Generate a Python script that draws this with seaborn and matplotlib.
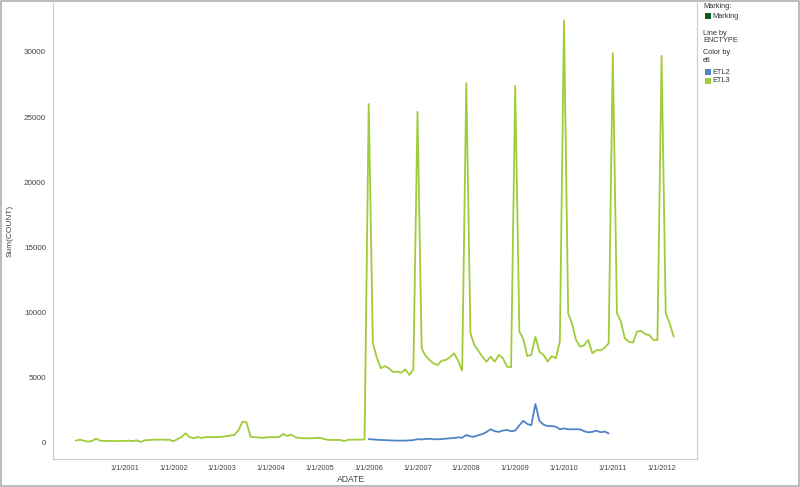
import numpy as np
import pandas as pd
import matplotlib
matplotlib.use("Agg")
import matplotlib.pyplot as plt
from matplotlib.patches import Rectangle
import seaborn as sns

# ---- data (monthly Sum(COUNT)) ----
etl3_start = "2000-01-01"
etl3_values = [
    # 2000
    180, 250, 180, 100, 150, 330, 180, 160, 150, 150, 150, 150,
    # 2001
    160, 170, 150, 200, 80, 200, 220, 250, 250, 260, 240, 250,
    # 2002
    130, 300, 440, 740, 460, 360, 460, 380, 460, 440, 450, 460,
    # 2003
    470, 520, 560, 620, 950, 1620, 1600, 480, 440, 420, 400, 430,
    # 2004
    450, 440, 450, 690, 540, 640, 440, 380, 360, 360, 360, 380,
    # 2005
    400, 300, 240, 230, 230, 230, 150, 240, 250, 250, 260, 260,
    # 2006
    26000, 7650, 6600, 5730, 5900, 5730, 5450, 5470, 5390, 5650, 5220, 5650,
    # 2007
    25400, 7260, 6700, 6370, 6100, 5980, 6310, 6370, 6570, 6880, 6310, 5550,
    # 2008
    27600, 8410, 7520, 7050, 6600, 6240, 6620, 6240, 6750, 6500, 5850, 5800,
    # 2009
    27400, 8540, 8030, 6670, 6750, 8150, 7000, 6750, 6240, 6670, 6500, 7770,
    # 2010
    32400, 9950, 9180, 7900, 7390, 7500, 7900, 6880, 7130, 7100, 7300, 7650,
    # 2011
    29900, 9950, 9370, 8030, 7770, 7700, 8540, 8600, 8340, 8280, 7900, 7900,
    # 2012
    29700, 9950, 9180, 8150,
]

etl2_start = "2006-01-01"
etl2_values = [
    # 2006
    300, 270, 250, 230, 220, 200, 190, 180, 180, 180, 200, 220,
    # 2007
    290, 270, 300, 320, 290, 280, 300, 330, 360, 380, 430, 400,
    # 2008
    610, 500, 480, 600, 680, 850, 1050, 900, 850, 950, 1000, 900,
    # 2009
    950, 1350, 1700, 1460, 1350, 2990, 1700, 1400, 1300, 1300, 1250, 1050,
    # 2010
    1120, 1050, 1050, 1050, 1050, 900, 820, 850, 950, 820, 870, 740,
]

series_names = ["ETL2", "ETL3"]
series_colors = ["#4F84C4", "#A0CC3A"]
y_ticks = [0, 5000, 10000, 15000, 20000, 25000, 30000]
x_tick_years = list(range(2001, 2013))
x_tick_labels = [f"1/1/{y}" for y in x_tick_years]

df = pd.concat([
    pd.DataFrame({"ADATE": pd.date_range(etl2_start, periods=len(etl2_values), freq="MS"),
                  "COUNT": etl2_values, "etl": "ETL2"}),
    pd.DataFrame({"ADATE": pd.date_range(etl3_start, periods=len(etl3_values), freq="MS"),
                  "COUNT": etl3_values, "etl": "ETL3"}),
], ignore_index=True)

sns.set_theme(style="white")
plt.rcParams["font.family"] = ["Liberation Sans", "DejaVu Sans"]

fig = plt.figure(figsize=(8.0, 4.87), dpi=100)
ax = fig.add_axes([53 / 800, 28 / 487, (697 - 53) / 800, (459 - 3) / 487])

sns.lineplot(data=df, x="ADATE", y="COUNT", hue="etl", hue_order=series_names,
             palette=dict(zip(series_names, series_colors)), linewidth=1.3,
             legend=False, ax=ax)

ax.set_xlim(pd.Timestamp("1999-07-15"), pd.Timestamp("2012-09-22"))
ax.set_ylim(-1230, 33750)
ax.set_yticks(y_ticks)
ax.set_yticklabels([str(v) for v in y_ticks])
ax.set_xticks([pd.Timestamp(f"{y}-01-01") for y in x_tick_years])
ax.set_xticklabels(x_tick_labels)
ax.tick_params(axis="both", length=0, colors="#444444")
ax.tick_params(axis="x", pad=4, labelsize=5.3)
ax.tick_params(axis="y", pad=5, labelsize=5.8)
ax.set_xlabel("")
ax.set_ylabel("")
ax.spines["top"].set_visible(False)
for side in ["left", "bottom", "right"]:
    ax.spines[side].set_color("#cfcfcf")
    ax.spines[side].set_linewidth(0.9)
ax.grid(False)

fig.text(10 / 800, 1 - 231 / 487, "Sum(COUNT)", rotation=90, ha="center", va="center",
         fontsize=6, color="#444444")
fig.text(351 / 800, 1 - 480 / 487, "ADATE", ha="center", va="center",
         fontsize=6.2, color="#444444")

# legend panel
lx = 703 / 800
def ftxt(y, s):
    fig.text(lx, 1 - y / 487, s, ha="left", va="center", fontsize=5.3, color="#333333")

ftxt(6, "Marking:")
fig.patches.append(Rectangle((705 / 800, 1 - 19 / 487), 6 / 800, 6 / 487,
                             transform=fig.transFigure, facecolor="#0B5E16",
                             edgecolor="none"))
fig.text(712 / 800, 1 - 16 / 487, "Marking", ha="left", va="center", fontsize=5.3, color="#333333")
ftxt(33, "Line by")
ftxt(41, "ENCTYPE")
ftxt(53, "Color by")
ftxt(61, "etl")
for i, (name, col) in enumerate(zip(series_names, series_colors)):
    yy = 72 + i * 9
    fig.patches.append(Rectangle((705 / 800, 1 - (yy + 3) / 487), 6 / 800, 6 / 487,
                                 transform=fig.transFigure, facecolor=col, edgecolor="none"))
    fig.text(712 / 800, 1 - yy / 487, name, ha="left", va="center", fontsize=5.3, color="#333333")

# outer border
fig.patches.append(Rectangle((0.5 / 800, 1.5 / 487), 798.5 / 800, 484.5 / 487,
                             transform=fig.transFigure, fill=False,
                             edgecolor="#b0b0b0", linewidth=1.2))

fig.savefig("out.png", dpi=100)
